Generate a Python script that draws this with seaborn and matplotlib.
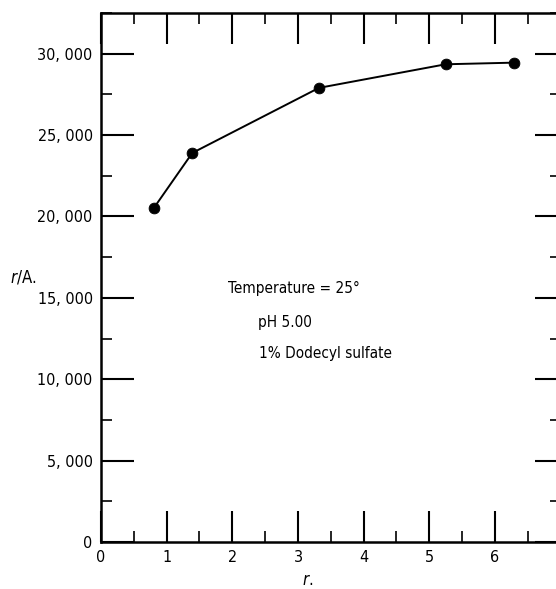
import matplotlib
matplotlib.use("Agg")
import matplotlib.pyplot as plt
import seaborn as sns
import pandas as pd
from matplotlib.ticker import MultipleLocator, FuncFormatter

# data
conc = [0.81, 1.39, 3.32, 5.25, 6.29]
radius = [20550, 23900, 27900, 29350, 29450]

x_ticks = [0, 1, 2, 3, 4, 5, 6]
y_ticks = [0, 5000, 10000, 15000, 20000, 25000, 30000]
notes = ["Temperature = 25°", "pH 5.00", "1% Dodecyl sulfate"]

sns.set_style("ticks")
plt.rcParams["font.family"] = ["DejaVu Sans"]
plt.rcParams["font.stretch"] = "condensed"
for k in ["text.color", "xtick.color", "ytick.color", "axes.edgecolor", "xtick.labelcolor", "ytick.labelcolor"]:
    plt.rcParams[k] = "black"

df = pd.DataFrame({"c": conc, "r": radius})

fig = plt.figure(figsize=(5.56, 5.89), dpi=100)
ax = fig.add_axes([101 / 556, 47 / 589, 1 - 101 / 556, 529 / 589])

sns.lineplot(data=df, x="c", y="r", color="black", linewidth=1.4, ax=ax)
sns.scatterplot(data=df, x="c", y="r", color="black", s=60, edgecolor="black", zorder=3, ax=ax)

ax.set_xlim(0, 6.93)
ax.set_ylim(0, 32500)
ax.set_xticks(x_ticks)
ax.set_yticks(y_ticks)
ax.xaxis.set_minor_locator(MultipleLocator(0.5))
ax.yaxis.set_minor_locator(MultipleLocator(2500))
ax.yaxis.set_major_formatter(FuncFormatter(lambda v, p: "0" if v == 0 else f"{int(v):,}".replace(",", ", ")))

for s in ["left", "bottom", "top"]:
    ax.spines[s].set_linewidth(1.8)
    ax.spines[s].set_visible(True)
ax.spines["right"].set_visible(False)

ax.tick_params(axis="both", which="major", direction="in", width=1.5, labelsize=11.5,
               top=True, length=22, pad=6)
ax.tick_params(axis="both", which="minor", direction="in", width=1.2, top=True, length=8)
ax.tick_params(axis="y", which="major", length=24, pad=6)

# right-hand ticks are shorter in the original
ax_r = ax.twinx()
ax_r.set_ylim(ax.get_ylim())
ax_r.set_yticks(y_ticks)
ax_r.yaxis.set_minor_locator(MultipleLocator(2500))
ax_r.tick_params(axis="y", which="major", direction="in", length=15, width=1.5, labelright=False)
ax_r.tick_params(axis="y", which="minor", direction="in", length=4, width=1.2)
for s in ax_r.spines.values():
    s.set_visible(False)

ax.set_xlabel("")
ax.set_ylabel("")
fig.text(10 / 556, 1 - 277 / 589, r"$r$/A.", fontsize=12, va="center", ha="left")
fig.text(302 / 556, 1 - 580 / 589, r"$r$.", fontsize=12, va="center", ha="left")

ax.text(1.93, 15600, notes[0], fontsize=11, ha="left", va="center")
ax.text(2.39, 13500, notes[1], fontsize=11, ha="left", va="center")
ax.text(2.40, 11600, notes[2], fontsize=11, ha="left", va="center")

fig.savefig("out.png", dpi=100)
